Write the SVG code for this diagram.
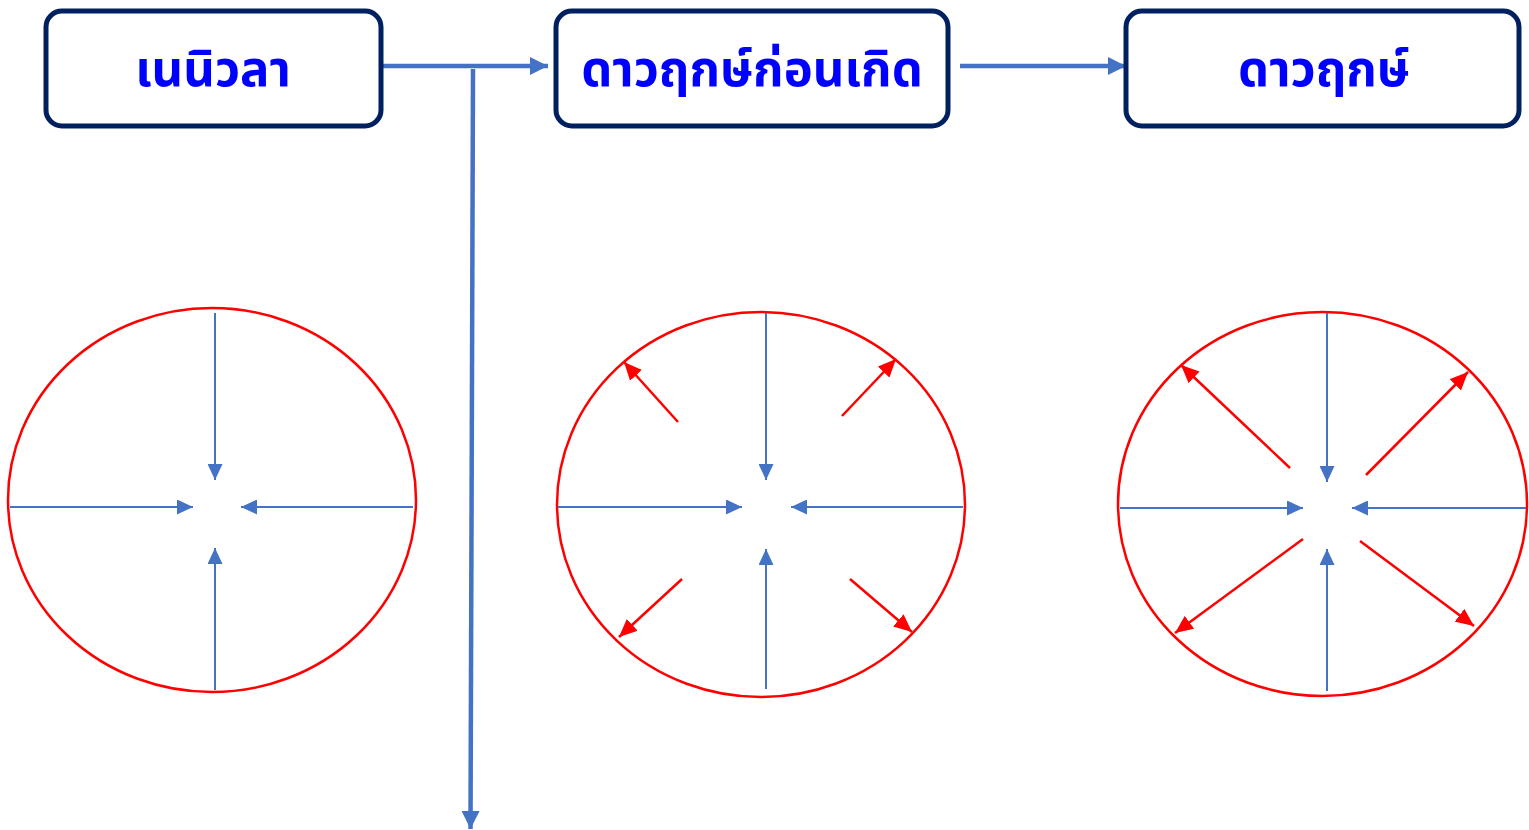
<svg xmlns="http://www.w3.org/2000/svg" width="1529" height="830" viewBox="0 0 1529 830">
<style>
.box{fill:#fff;stroke:#002060;stroke-width:5}
.lbl{font-family:"Noto Sans Thai","Tahoma","Leelawadee UI","Noto Sans",sans-serif;font-weight:bold;font-size:49px;fill:#0000ff;text-anchor:middle}
.flow{stroke:#4472c4;stroke-width:4.5;fill:none}
.ell{fill:none;stroke:#ff0000;stroke-width:2.5}
.inb{stroke:#4472c4;stroke-width:2;fill:none;marker-end:url(#hb)}
.outr{stroke:#ff0000;stroke-width:2.5;fill:none;marker-end:url(#hr)}
</style>
<defs>
<marker id="hf" markerUnits="userSpaceOnUse" markerWidth="18" markerHeight="18" refX="18" refY="9" orient="auto"><path d="M0,0 L18,9 L0,18 z" fill="#4472c4"/></marker>
<marker id="hb" markerUnits="userSpaceOnUse" markerWidth="16" markerHeight="15" refX="16" refY="7.5" orient="auto"><path d="M0,0 L16,7.5 L0,15 z" fill="#4472c4"/></marker>
<marker id="hr" markerUnits="userSpaceOnUse" markerWidth="18" markerHeight="16" refX="18" refY="8" orient="auto"><path d="M0,0 L18,8 L0,16 z" fill="#ff0000"/></marker>
</defs>
<rect width="1529" height="830" fill="#fff"/>
<g id="connectors">
<line class="flow" x1="383" y1="66" x2="548" y2="66" marker-end="url(#hf)"/>
<line class="flow" x1="473" y1="69" x2="470.5" y2="829" marker-end="url(#hf)"/>
<line class="flow" x1="960" y1="66" x2="1126" y2="66" marker-end="url(#hf)"/>
</g>
<g id="node-nebula">
<rect class="box" x="46" y="11" width="335" height="115" rx="16"/>
<text class="lbl" x="213" y="86">เนนิวลา</text>
</g>
<g id="node-protostar">
<rect class="box" x="556" y="11" width="392" height="115" rx="16"/>
<text class="lbl" x="752" y="86">ดาวฤกษ์ก่อนเกิด</text>
</g>
<g id="node-star">
<rect class="box" x="1126" y="11" width="393" height="115" rx="16"/>
<text class="lbl" x="1324" y="86">ดาวฤกษ์</text>
</g>
<g id="diagram-nebula">
<ellipse class="ell" cx="212" cy="500" rx="204" ry="192"/>
<line class="inb" x1="215" y1="313" x2="215" y2="480"/>
<line class="inb" x1="10" y1="507" x2="193" y2="507"/>
<line class="inb" x1="413" y1="507" x2="241" y2="507"/>
<line class="inb" x1="215" y1="690" x2="215" y2="548"/>
</g>
<g id="diagram-protostar">
<ellipse class="ell" cx="761" cy="504.5" rx="204" ry="192.5"/>
<line class="inb" x1="766" y1="313" x2="766" y2="480"/>
<line class="inb" x1="558" y1="507" x2="742" y2="507"/>
<line class="inb" x1="963" y1="507" x2="791" y2="507"/>
<line class="inb" x1="766" y1="689" x2="766" y2="549"/>
<line class="outr" x1="678" y1="422" x2="624" y2="362"/>
<line class="outr" x1="842" y1="416" x2="896" y2="359"/>
<line class="outr" x1="682" y1="579" x2="619" y2="637"/>
<line class="outr" x1="850" y1="579" x2="912" y2="632"/>
</g>
<g id="diagram-star">
<ellipse class="ell" cx="1322.5" cy="504" rx="204.5" ry="192"/>
<line class="inb" x1="1327" y1="313" x2="1327" y2="482"/>
<line class="inb" x1="1120" y1="508" x2="1303" y2="508"/>
<line class="inb" x1="1526" y1="508" x2="1352" y2="508"/>
<line class="inb" x1="1327" y1="691" x2="1327" y2="549"/>
<line class="outr" x1="1290" y1="468" x2="1181" y2="365"/>
<line class="outr" x1="1366" y1="475" x2="1468" y2="372"/>
<line class="outr" x1="1303" y1="539" x2="1175" y2="633"/>
<line class="outr" x1="1360" y1="541" x2="1474" y2="626"/>
</g>
</svg>
